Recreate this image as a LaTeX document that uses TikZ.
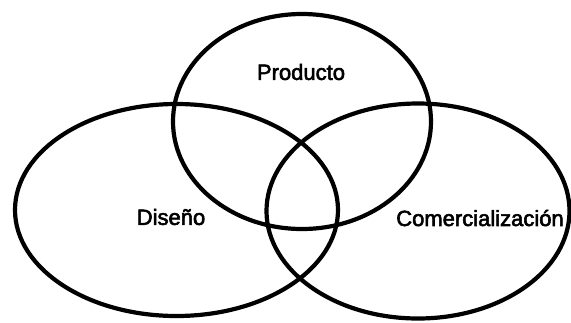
\documentclass[tikz,border=0pt]{standalone}
\usepackage{fontspec}
\setmainfont{Liberation Sans}
\newfontfamily\vennfont[FakeBold=2.6]{Liberation Sans}
\usetikzlibrary{positioning}
\tikzset{ring/.style={draw=black,line width=4.2pt}, lbl/.style={font=\vennfont\fontsize{22}{24}\selectfont,inner sep=0pt}}
\begin{document}
\begin{tikzpicture}[x=1pt,y=-1pt]
\useasboundingbox(0,0)rectangle(571,322);
\draw[ring](302,121.5)ellipse[x radius=129,y radius=107.5];\draw[ring](176.5,210)ellipse[x radius=161.5,y radius=106];\draw[ring](418,211)ellipse[x radius=151.5,y radius=107.5];
\node[lbl](prod)at(301,72){Producto};\node[lbl](dis)at(171,217){Diseño};\node[lbl](com)at(480,218){Comercialización};
\end{tikzpicture}
\end{document}
